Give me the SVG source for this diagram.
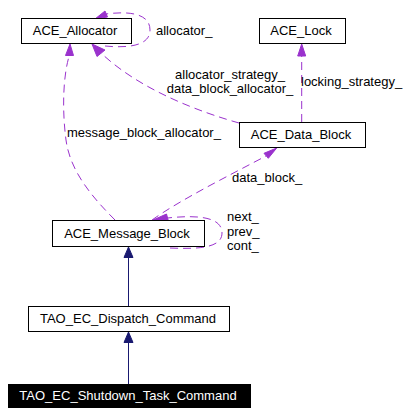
<svg xmlns="http://www.w3.org/2000/svg" width="412" height="415" viewBox="0 0 412 415">
<style>
.box{fill:#fff;stroke:#000;stroke-width:1}
.lbl{font-family:"Liberation Sans",Arial,sans-serif;font-size:13px;fill:#000}
.c{text-anchor:middle}
.dash{fill:none;stroke:#9a32cd;stroke-width:1;stroke-dasharray:8,5}
.solid{fill:none;stroke:#191970;stroke-width:1}
.ph{fill:#9a32cd;stroke:#9a32cd}
.nh{fill:#191970;stroke:#191970}
</style>
<rect width="412" height="415" fill="#fff"/>
<g id="edges">
<path class="dash" d="M105,46 C125,48 150,47 150,30 C150,13 128,11 106,14"/>
<polygon class="ph" points="95,19 105,11 107.5,17"/>
<path class="dash" d="M239,123 C200,112 140,90 101,53"/>
<polygon class="ph" points="92,44 97,56.5 105,50"/>
<path class="dash" d="M301.7,122 L301.7,56"/>
<polygon class="ph" points="301.7,44 297.7,56 305.7,56"/>
<path class="dash" d="M115,220 C90,195 70,170 66,140 C62,110 63,75 69.5,55"/>
<polygon class="ph" points="70,44 65.5,55.5 73.5,55.5"/>
<path class="dash" d="M152,220 C180,200 230,175 266,156"/>
<polygon class="ph" points="276.7,148 264,153.3 268.3,158.3"/>
<path class="dash" d="M170,248 C195,249 222,249 222,233 C222,216 195,215 167.5,218"/>
<polygon class="ph" points="153,220 166.5,214 168.5,221.5"/>
<path class="solid" d="M128.5,307 L128.5,257"/>
<polygon class="nh" points="128.5,247 124,257.5 133,257.5"/>
<path class="solid" d="M128.5,384 L128.5,342"/>
<polygon class="nh" points="128.5,332 124,342.5 133,342.5"/>
<text class="lbl" x="156" y="35">allocator_</text>
<text class="lbl c" x="230" y="79">allocator_strategy_</text>
<text class="lbl c" x="230" y="93">data_block_allocator_</text>
<text class="lbl" x="301" y="86">locking_strategy_</text>
<text class="lbl" x="67" y="137">message_block_allocator_</text>
<text class="lbl" x="232" y="182">data_block_</text>
<text class="lbl" x="227" y="221">next_</text>
<text class="lbl" x="227" y="235.5">prev_</text>
<text class="lbl" x="227" y="250">cont_</text>
</g>
<g id="ACE_Allocator">
<rect class="box" x="21.5" y="18.5" width="110" height="25"/>
<text class="lbl c" x="75" y="35">ACE_Allocator</text>
</g>
<g id="ACE_Lock">
<rect class="box" x="259.5" y="18.5" width="86" height="25"/>
<text class="lbl c" x="301" y="35">ACE_Lock</text>
</g>
<g id="ACE_Data_Block">
<rect class="box" x="239.5" y="122.5" width="126" height="25"/>
<text class="lbl c" x="301" y="139">ACE_Data_Block</text>
</g>
<g id="ACE_Message_Block">
<rect class="box" x="52.5" y="220.5" width="152" height="26"/>
<text class="lbl c" x="127" y="237.5">ACE_Message_Block</text>
</g>
<g id="TAO_EC_Dispatch_Command">
<rect class="box" x="28.5" y="306.5" width="201" height="25"/>
<text class="lbl c" x="128" y="323">TAO_EC_Dispatch_Command</text>
</g>
<g id="TAO_EC_Shutdown_Task_Command">
<rect x="8" y="384" width="243" height="24" fill="#000"/>
<text class="lbl c" x="128" y="400" fill="#fff" style="fill:#fff">TAO_EC_Shutdown_Task_Command</text>
</g>
</svg>
